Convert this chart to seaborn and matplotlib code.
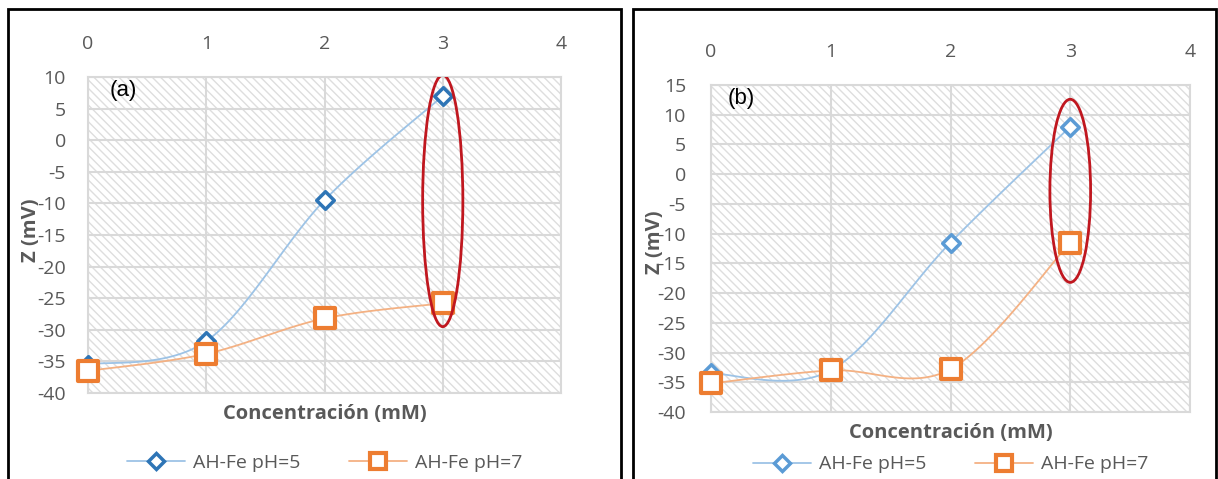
import numpy as np
import seaborn as sns
import matplotlib.pyplot as plt
from matplotlib.patches import Ellipse, Rectangle
from matplotlib.lines import Line2D

# datos
conc = [0, 1, 2, 3]
a_ph5 = [-35.5, -31.8, -9.5, 7.0]
a_ph7 = [-36.5, -33.8, -28.2, -25.8]
b_ph5 = [-33.5, -33.0, -11.5, 8.0]
b_ph7 = [-35.2, -33.0, -32.8, -11.5]
labels = ["AH-Fe pH=5", "AH-Fe pH=7"]

sns.set_style("white")
plt.rcParams['font.family'] = ['Open Sans', 'DejaVu Sans']
plt.rcParams['axes.unicode_minus'] = False
plt.rcParams['hatch.linewidth'] = 1.0

GRAY = '#595959'
BLUE_LINE = '#9DC3E6'
ORANGE_LINE = '#F4B183'
ORANGE = '#ED7D31'


def smooth(x, y, n=40):
    # curva suavizada tipo Catmull-Rom (como "linea suavizada" de Excel)
    x = np.asarray(x, float)
    y = np.asarray(y, float)
    px = np.concatenate([[x[0]], x, [x[-1]]])
    py = np.concatenate([[y[0]], y, [y[-1]]])
    xs, ys = [], []
    t = np.linspace(0, 1, n)
    for i in range(1, len(px) - 2):
        p0, p1, p2, p3 = [np.array([px[j], py[j]]) for j in range(i - 1, i + 3)]
        c1 = p1 + (p2 - p0) / 6
        c2 = p2 - (p3 - p1) / 6
        pts = ((1 - t) ** 3)[:, None] * p1 + (3 * (1 - t) ** 2 * t)[:, None] * c1 \
            + (3 * (1 - t) * t ** 2)[:, None] * c2 + (t ** 3)[:, None] * p2
        xs.extend(pts[:, 0])
        ys.extend(pts[:, 1])
    return xs, ys


fig = plt.figure(figsize=(12.18, 4.79), dpi=100)

# marcos negros de cada panel
fig.add_artist(Rectangle((8 / 1218, -0.05), (621 - 8) / 1218, 1 - 9 / 479 + 0.05,
                         transform=fig.transFigure, fill=False, edgecolor='black', lw=2))
fig.add_artist(Rectangle((633 / 1218, -0.05), (1216 - 633) / 1218, 1 - 9 / 479 + 0.05,
                         transform=fig.transFigure, fill=False, edgecolor='black', lw=2))

panels = [
    dict(pos=[88 / 1218, 1 - 393 / 479, 473 / 1218, 316 / 479], y5=a_ph5, y7=a_ph7,
         ylim=(-40, 10), tag='(a)', tag_x=0.045, blue='#2E75B6', ell=(3, -9.6, 0.34, 39.8),
         xlab_y=-0.066, leg_y=-0.22, ylab=(-0.12, 0.515), ypad=16, xpad=17),
    dict(pos=[711 / 1218, 1 - 412 / 479, 479 / 1218, 327 / 479], y5=b_ph5, y7=b_ph7,
         ylim=(-40, 15), tag='(b)', tag_x=0.035, blue='#5B9BD5', ell=(3, -2.8, 0.34, 30.8),
         xlab_y=-0.064, leg_y=-0.16, ylab=(-0.117, 0.52), ypad=18, xpad=17),
]

for p in panels:
    ax = fig.add_axes(p['pos'])
    # fondo rayado diagonal
    ax.add_patch(Rectangle((0, 0), 1, 1, transform=ax.transAxes, facecolor='white',
                           edgecolor='#dedede', lw=0, hatch='\\\\\\\\', zorder=0))

    for ys, col in [(p['y5'], BLUE_LINE), (p['y7'], ORANGE_LINE)]:
        sx, sy = smooth(conc, ys)
        ax.plot(sx, sy, color=col, lw=1.3, zorder=3, clip_on=False)

    sns.scatterplot(x=conc, y=p['y5'], ax=ax, marker='D', s=80, color='white',
                    edgecolor=p['blue'], linewidth=2.5, zorder=4, clip_on=False)
    sns.scatterplot(x=conc, y=p['y7'], ax=ax, marker='s', s=190, color='white',
                    edgecolor=ORANGE, linewidth=3, zorder=4, clip_on=False)

    cx, cy, w, h = p['ell']
    ax.add_patch(Ellipse((cx, cy), w, h, fill=False, edgecolor='#C0171F', lw=2, zorder=5))

    ax.set_xlim(0, 4)
    ax.set_ylim(*p['ylim'])
    ax.set_xticks(range(0, 5))
    ax.set_yticks(np.arange(p['ylim'][0], p['ylim'][1] + 1, 5))
    ax.xaxis.tick_top()
    ax.tick_params(axis='both', length=0, labelsize=14, labelcolor=GRAY)
    ax.tick_params(axis='x', pad=p['xpad'])
    ax.tick_params(axis='y', pad=p['ypad'])
    ax.grid(True, color='#d9d9d9', lw=1.5, zorder=1)
    ax.set_axisbelow(True)
    for s in ax.spines.values():
        s.set_color('#d9d9d9')
        s.set_linewidth(1.5)

    ax.text(p['tag_x'], 0.99, p['tag'], transform=ax.transAxes, fontsize=16, ha='left',
            va='top', color='black', zorder=6, family='Liberation Sans')
    ax.text(0.5, p['xlab_y'], 'Concentración (mM)', transform=ax.transAxes, ha='center',
            va='center', fontsize=14.5, fontweight='bold', color=GRAY)
    ax.text(p['ylab'][0], p['ylab'][1], 'Z (mV)', transform=ax.transAxes, ha='center',
            va='center', rotation=90, fontsize=14.5, fontweight='bold', color=GRAY)

    handles = [
        Line2D([], [], color=BLUE_LINE, lw=1.3, marker='D', markersize=8, markerfacecolor='white',
               markeredgecolor=p['blue'], markeredgewidth=2.5),
        Line2D([], [], color=ORANGE_LINE, lw=1.3, marker='s', markersize=11,
               markerfacecolor='white', markeredgecolor=ORANGE, markeredgewidth=3),
    ]
    ax.legend(handles, labels, loc='center', bbox_to_anchor=(0.5, p['leg_y']), ncol=2,
              frameon=False, fontsize=14, labelcolor=GRAY, handlelength=3.0,
              columnspacing=2.5, handletextpad=0.4)

fig.savefig('out.png', dpi=100)
